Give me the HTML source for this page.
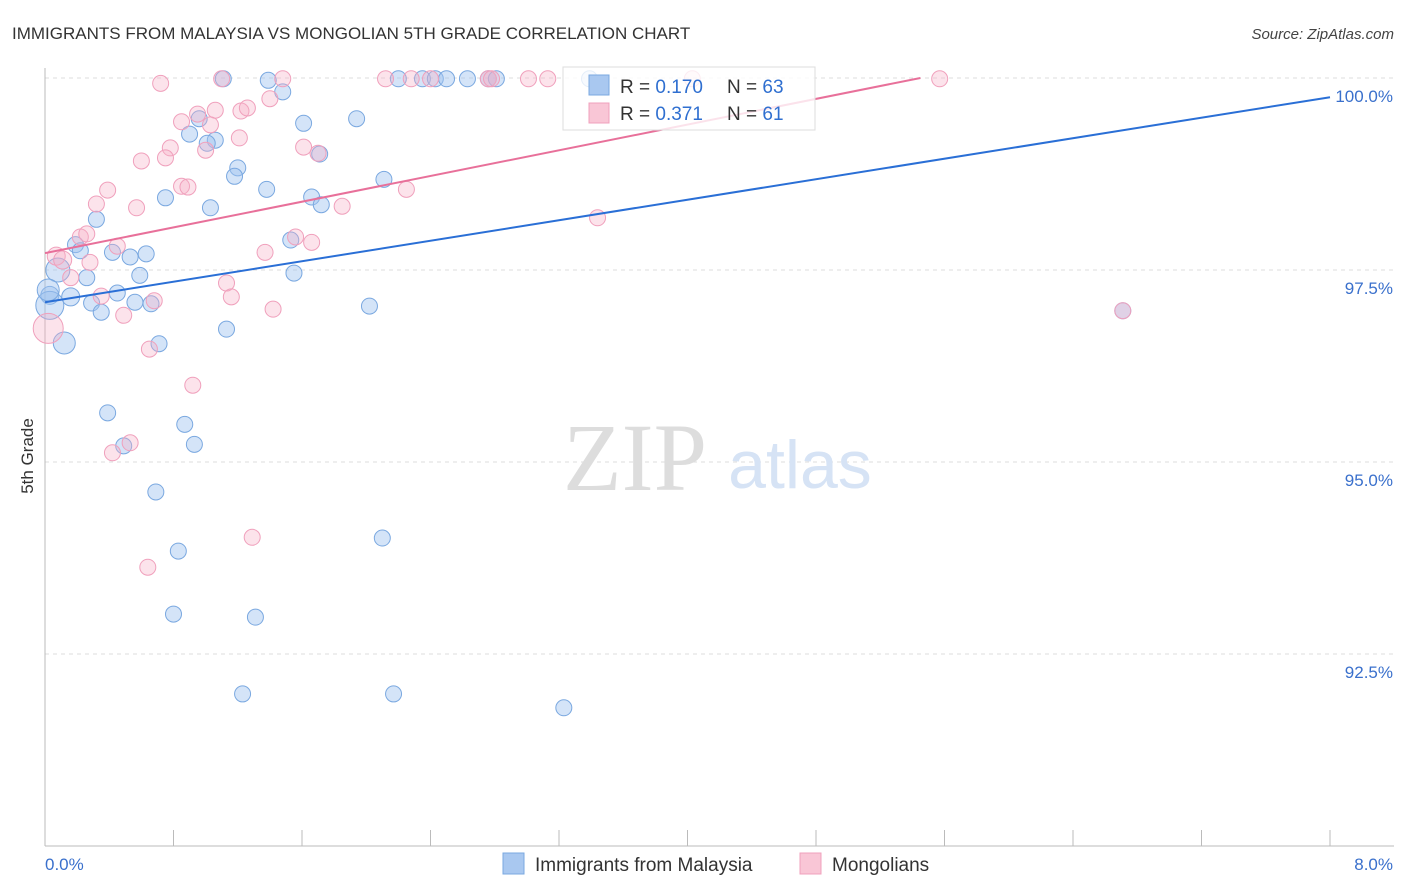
<!DOCTYPE html>
<html><head><meta charset="utf-8"><style>
body{margin:0;background:#fff;font-family:"Liberation Sans",sans-serif;}
</style></head><body>
<svg id="chart" width="1406" height="892" xmlns="http://www.w3.org/2000/svg" style="display:block">
<text x="12" y="39" font-size="17" fill="#333" font-family="Liberation Sans, sans-serif">IMMIGRANTS FROM MALAYSIA VS MONGOLIAN 5TH GRADE CORRELATION CHART</text>
<text x="1394" y="39" font-size="15" fill="#444" text-anchor="end" font-style="italic">Source: ZipAtlas.com</text>
<text transform="translate(33,456) rotate(-90)" font-size="17" fill="#333" text-anchor="middle">5th Grade</text>
<g id="grid"></g>
<g id="axes"></g>
<g>
<text x="635" y="490" font-size="96" fill="#ddd" font-family="Liberation Serif, serif" text-anchor="middle">ZIP</text>
<text x="800" y="488" font-size="68" fill="#d6e3f5" text-anchor="middle">atlas</text>
</g>
<g id="pts"></g>
<g id="lines"></g>
<g>
<rect x="563" y="67" width="252" height="63" fill="rgba(255,255,255,0.8)" stroke="#ddd"/>
<rect x="589" y="75" width="20" height="20" fill="#a9c8f0" stroke="#7aa8e0"/>
<rect x="589" y="103" width="20" height="20" fill="#f9c6d6" stroke="#f0a0bc"/>
<text x="620" y="93" font-size="19" fill="#333">R = <tspan fill="#2f6fd0">0.170</tspan></text>
<text x="727" y="93" font-size="19" fill="#333">N = <tspan fill="#2f6fd0">63</tspan></text>
<text x="620" y="120" font-size="19" fill="#333">R = <tspan fill="#2f6fd0">0.371</tspan></text>
<text x="727" y="120" font-size="19" fill="#333">N = <tspan fill="#2f6fd0"> 61</tspan></text>
</g>
<g>
<rect x="503" y="853" width="21" height="21" fill="#a9c8f0" stroke="#7aa8e0"/>
<text x="535" y="871" font-size="19" fill="#333">Immigrants from Malaysia</text>
<rect x="800" y="853" width="21" height="21" fill="#f9c6d6" stroke="#f0a0bc"/>
<text x="832" y="871" font-size="19" fill="#333">Mongolians</text>
</g>
</svg>
<script>
const yTicks=[92.5,95.0,97.5,100.0];
const yTickLabels=["92.5%","95.0%","97.5%","100.0%"];
const xTickCount=10;
const blueX=[1.11,1.39,1.48,2.20,2.35,2.43,2.50,2.63,2.76,2.81,3.39,1.61,1.94,0.96,0.90,1.06,1.01,1.71,1.20,1.18,2.11,1.38,0.75,1.66,1.72,1.03,0.32,1.53,0.19,0.22,0.42,0.53,0.63,0.08,0.59,1.55,0.26,0.45,0.16,0.03,0.29,0.56,0.66,2.02,0.35,1.13,0.71,0.12,0.39,0.87,0.93,0.49,0.69,2.10,0.83,0.80,1.31,1.23,2.17,3.23,6.71,0.03,0.02];
const blueY=[99.99,99.97,99.82,99.99,99.99,99.99,99.99,99.99,99.99,99.99,99.99,99.41,99.47,99.47,99.27,99.19,99.15,99.01,98.83,98.72,98.68,98.55,98.44,98.45,98.35,98.31,98.16,97.89,97.83,97.75,97.73,97.67,97.71,97.50,97.43,97.46,97.40,97.20,97.15,97.17,97.07,97.08,97.06,97.03,96.95,96.73,96.54,96.55,95.64,95.49,95.23,95.21,94.61,94.01,93.84,93.02,92.98,91.98,91.98,91.80,96.97,97.04,97.24];
const blueR=[8,8,8,8,8,8,8,8,8,8,8,8,8,8,8,8,8,8,8,8,8,8,8,8,8,8,8,8,8,8,8,8,8,12,8,8,8,8,9,9,8,8,8,8,8,8,8,11,8,8,8,8,8,8,8,8,8,8,8,8,8,14,11];
const pinkX=[0.72,1.10,1.48,2.12,2.28,2.40,2.76,2.78,3.01,3.13,4.03,5.57,1.40,1.06,0.95,1.22,1.26,0.85,1.03,1.21,0.78,1.61,1.00,1.70,0.60,0.75,0.85,0.89,0.39,2.25,0.57,0.32,1.85,3.44,0.22,0.26,0.45,1.66,1.37,1.56,0.07,0.11,0.28,0.16,1.13,0.35,1.16,0.68,0.49,1.42,0.02,0.65,0.92,0.53,0.42,1.29,0.64,6.71];
const pinkY=[99.93,99.99,99.99,99.99,99.99,99.99,99.99,99.99,99.99,99.99,99.99,99.99,99.73,99.58,99.53,99.57,99.61,99.43,99.39,99.22,99.09,99.10,99.06,99.02,98.92,98.96,98.59,98.58,98.54,98.55,98.31,98.36,98.33,98.18,97.93,97.97,97.81,97.86,97.73,97.93,97.68,97.63,97.60,97.40,97.33,97.16,97.15,97.10,96.91,96.99,96.74,96.47,96.00,95.25,95.12,94.02,93.63,96.97];
const pinkR=[8,8,8,8,8,8,8,8,8,8,8,8,8,8,8,8,8,8,8,8,8,8,8,8,8,8,8,8,8,8,8,8,8,8,8,8,8,8,8,8,9,9,8,8,8,8,8,8,8,8,15,8,8,8,8,8,8,8];
const blueLine=[[0,97.08],[8,99.75]];
const pinkLine=[[0,97.72],[5.45,100.0]];

const NS="http://www.w3.org/2000/svg";
const X0=45,X1=1330,XMAX=8;
function sx(v){return X0+(v/XMAX)*(X1-X0);}
function sy(v){return 78+(100-v)*76.8;}
function mk(tag,attrs,parent){const e=document.createElementNS(NS,tag);for(const k in attrs)e.setAttribute(k,attrs[k]);parent.appendChild(e);return e;}
const grid=document.getElementById('grid'),axes=document.getElementById('axes');
yTicks.forEach((t,i)=>{
  const l=mk('line',{x1:45,x2:1394,y1:sy(t),y2:sy(t),stroke:'#ddd','stroke-dasharray':'4,4'},grid);
  
  
  const tx=mk('text',{x:1393,y:sy(t)+24,'font-size':17,fill:'#3a70cc','text-anchor':'end'},axes);
  tx.textContent=yTickLabels[i];
  
  
});
mk('line',{x1:45,x2:45,y1:68,y2:846,stroke:'#bbb'},axes);
mk('line',{x1:45,x2:1394,y1:846,y2:846,stroke:'#bbb'},axes);
for(let i=1;i<=xTickCount;i++){
  const t=mk('line',{x1:sx(i*XMAX/xTickCount),x2:sx(i*XMAX/xTickCount),y1:830,y2:846,stroke:'#bbb'},axes);
  
  
}
const xl=mk('text',{x:45,y:870,'font-size':17,fill:'#3a70cc'},axes);xl.textContent='0.0%';


const xr=mk('text',{x:1393,y:870,'font-size':17,fill:'#3a70cc','text-anchor':'end'},axes);xr.textContent='8.0%';


const pts=document.getElementById('pts');
blueX.forEach((x,i)=>{
  const c=mk('circle',{cx:sx(x),cy:sy(blueY[i]),r:blueR[i],fill:'rgba(160,196,240,0.45)',stroke:'#7aa8e0','stroke-width':1},pts);
  
  
});
pinkX.forEach((x,i)=>{
  const c=mk('circle',{cx:sx(x),cy:sy(pinkY[i]),r:pinkR[i],fill:'rgba(246,175,198,0.35)',stroke:'#f0a0bc','stroke-width':1},pts);
  
  
});
const lines=document.getElementById('lines');
const bl=mk('line',{x1:sx(blueLine[0][0]),y1:sy(blueLine[0][1]),x2:sx(blueLine[1][0]),y2:sy(blueLine[1][1]),stroke:'#2a6fd6','stroke-width':2},lines);


const pl=mk('line',{x1:sx(pinkLine[0][0]),y1:sy(pinkLine[0][1]),x2:sx(pinkLine[1][0]),y2:sy(pinkLine[1][1]),stroke:'#e8709a','stroke-width':2},lines);


</script>
</body></html>
